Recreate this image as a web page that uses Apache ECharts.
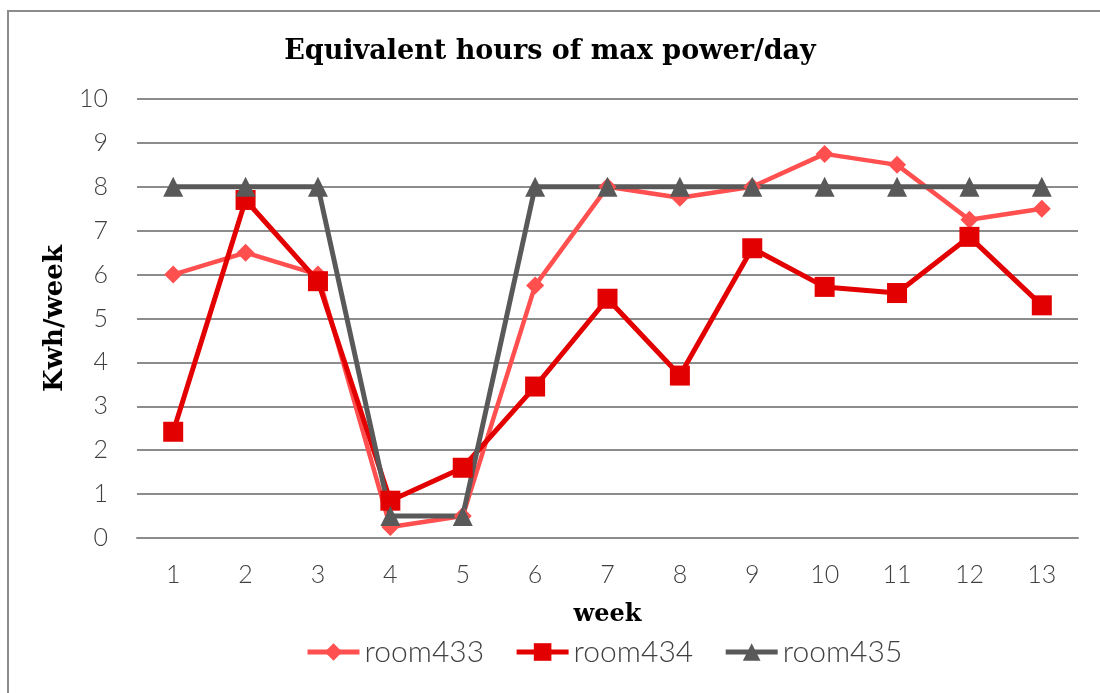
<!DOCTYPE html>
<html>
<head>
<meta charset="utf-8">
<script src="https://cdn.jsdelivr.net/npm/echarts@6/dist/echarts.min.js"></script>
<style>
html, body { margin: 0; padding: 0; background: #fff; }
#main { width: 1100px; height: 693px; }
</style>
</head>
<body>
<div id="main"></div>
<script>
var weeks = ['1', '2', '3', '4', '5', '6', '7', '8', '9', '10', '11', '12', '13'];
var room433 = [6, 6.5, 6, 0.25, 0.5, 5.75, 8, 7.75, 8, 8.75, 8.5, 7.25, 7.5];
var room434 = [2.42, 7.7, 5.85, 0.85, 1.6, 3.45, 5.45, 3.7, 6.6, 5.72, 5.58, 6.86, 5.3];
var room435 = [8, 8, 8, 0.5, 0.5, 8, 8, 8, 8, 8, 8, 8, 8];

var labelFont = { fontFamily: 'Lato', fontWeight: 300, fontSize: 25, color: '#404040' };

var option = {
    animation: false,
    title: {
        text: 'Equivalent hours of max power/day',
        left: 'center',
        top: 33,
        textStyle: { fontFamily: 'DejaVu Serif', fontWeight: 'bold', fontSize: 27, color: '#000' }
    },
    graphic: [{
        type: 'rect',
        shape: { x: 8, y: 11, width: 1100, height: 700 },
        style: { fill: 'none', stroke: '#8c8c8c', lineWidth: 2 },
        silent: true
    }],
    legend: {
        bottom: 21,
        left: 300,
        itemWidth: 52,
        itemHeight: 22,
        itemGap: 30,
        lineStyle: { width: 5 },
        textStyle: { fontFamily: 'Lato', fontWeight: 300, fontSize: 30, color: '#404040' },
        data: ['room433', 'room434', 'room435']
    },
    grid: { left: 137, right: 22, top: 99, bottom: 155 },
    xAxis: {
        type: 'category',
        data: weeks,
        name: 'week',
        nameLocation: 'middle',
        nameGap: 65,
        nameTextStyle: { fontFamily: 'DejaVu Serif', fontWeight: 'bold', fontSize: 24, color: '#000' },
        axisLine: { show: true, lineStyle: { color: '#8c8c8c', width: 2 } },
        axisTick: { show: false },
        axisLabel: Object.assign({ margin: 24 }, labelFont)
    },
    yAxis: {
        type: 'value',
        min: 0,
        max: 10,
        interval: 1,
        name: 'Kwh/week',
        nameLocation: 'middle',
        nameGap: 66,
        nameTextStyle: { fontFamily: 'DejaVu Serif', fontWeight: 'bold', fontSize: 26, color: '#000' },
        axisLine: { show: false },
        axisTick: { show: false },
        axisLabel: Object.assign({ margin: 29 }, labelFont),
        splitLine: { lineStyle: { color: '#8c8c8c', width: 2 } }
    },
    series: [
        {
            name: 'room433',
            type: 'line',
            data: room433,
            symbol: 'diamond',
            symbolSize: 18,
            itemStyle: { color: '#ff4f4f' },
            lineStyle: { color: '#ff4f4f', width: 4.5 }
        },
        {
            name: 'room434',
            type: 'line',
            data: room434,
            symbol: 'rect',
            symbolSize: 20,
            itemStyle: { color: '#e30000' },
            lineStyle: { color: '#e30000', width: 5 }
        },
        {
            name: 'room435',
            type: 'line',
            data: room435,
            symbol: 'triangle',
            symbolSize: 20,
            itemStyle: { color: '#595959' },
            lineStyle: { color: '#595959', width: 5 }
        }
    ]
};

var chart = echarts.init(document.getElementById('main'));
chart.setOption(option);
</script>
</body>
</html>
